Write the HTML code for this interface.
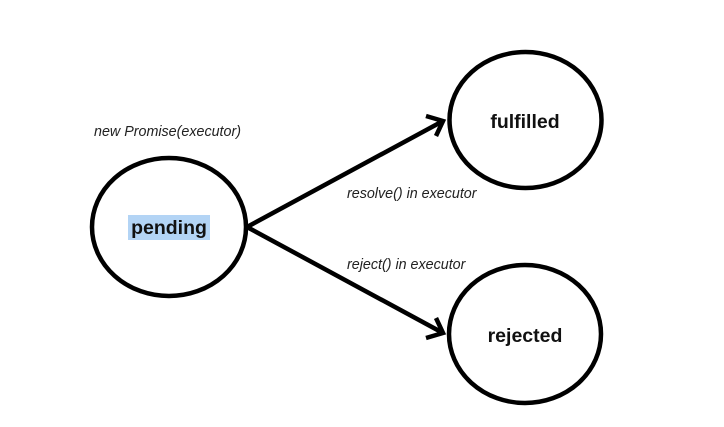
<!DOCTYPE html>
<html><head><style>
html,body{margin:0;padding:0;background:#fff;}
svg{display:block}
</style></head><body>
<svg width="724" height="427" viewBox="0 0 724 427">
<rect width="724" height="427" fill="#fff"/>
<g fill="none" stroke="#000" stroke-width="4.5">
<ellipse cx="169" cy="227" rx="77" ry="69"/>
<ellipse cx="525.5" cy="120" rx="76" ry="68"/>
<ellipse cx="525" cy="334" rx="76" ry="69"/>
<path d="M247 227 L443 121"/>
<path d="M247 227 L443 333"/>
<path d="M426 116 L443 121 L436 136" stroke-linejoin="miter"/>
<path d="M426 338 L443 333 L436 318" stroke-linejoin="miter"/>
</g>
<rect x="128" y="215" width="82" height="25" fill="#b3d4f5"/>
<g font-family="Liberation Sans, sans-serif" font-weight="bold" font-size="19.5" text-anchor="middle" fill="#111">
<text x="169" y="234">pending</text>
<text x="525" y="128">fulfilled</text>
<text x="525" y="342">rejected</text>
</g>
<g font-family="Liberation Sans, sans-serif" font-style="italic" font-size="14.3" fill="#222">
<text x="94" y="136">new Promise(executor)</text>
<text x="347" y="198">resolve() in executor</text>
<text x="347" y="269">reject() in executor</text>
</g>
</svg>
</body></html>
